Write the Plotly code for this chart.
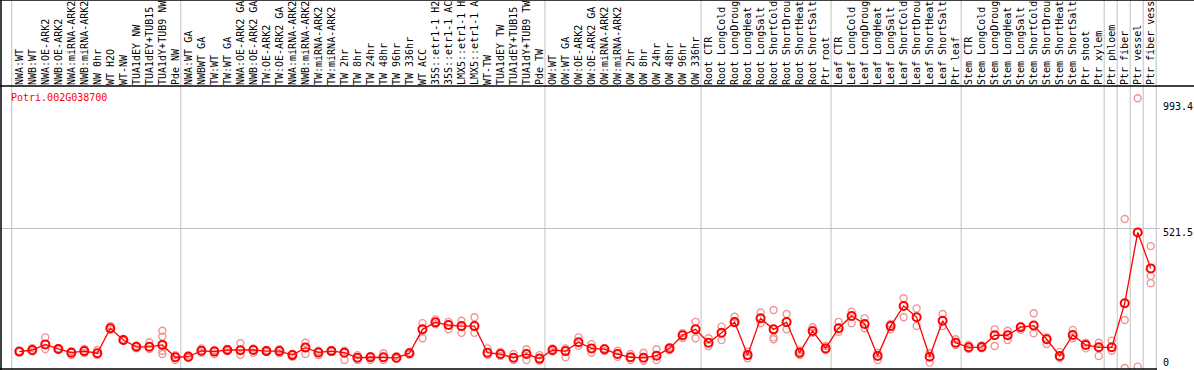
import plotly.graph_objects as go

W, H = 1194, 370
GENE = "Potri.002G038700"

labels = [
    "NWA:WT", "NWB:WT", "NWA:OE-ARK2", "NWB:OE-ARK2", "NWA:miRNA-ARK2", "NWB:miRNA-ARK2",
    "NW 0hr", "WT H2O", "WT-NW", "TUA1dEY NW", "TUA1dEY+TUB15", "TUA1dY+TUB9 NW", "Pde NW",
    "NWA:WT GA", "NWBWT GA", "TW:WT", "TW:WT GA", "NWA:OE-ARK2 GA", "NWB:OE-ARK2 GA",
    "TW:OE-ARK2", "TW:OE-ARK2 GA", "NWA:miRNA-ARK2", "NWB:miRNA-ARK2", "TW:miRNA-ARK2",
    "TW:miRNA-ARK2", "TW 2hr", "TW 8hr", "TW 24hr", "TW 48hr", "TW 96hr", "TW 336hr",
    "WT ACC", "35S::etr1-1 H2", "35S::etr1-1 AC", "LMX5::etr1-1 H", "LMX5::etr1-1 A",
    "WT-TW", "TUA1dEY TW", "TUA1dEY+TUB15", "TUA1dY+TUB9 TW", "Pde TW",
    "OW:WT", "OW:WT GA", "OW:OE-ARK2", "OW:OE-ARK2 GA", "OW:miRNA-ARK2", "OW:miRNA-ARK2",
    "OW 2hr", "OW 8hr", "OW 24hr", "OW 48hr", "OW 96hr", "OW 336hr",
    "Root CTR", "Root LongCold", "Root LongDroug", "Root LongHeat", "Root LongSalt",
    "Root ShortCold", "Root ShortDrou", "Root ShortHeat", "Root ShortSalt", "Ptr root",
    "Leaf CTR", "Leaf LongCold", "Leaf LongDroug", "Leaf LongHeat", "Leaf LongSalt",
    "Leaf ShortCold", "Leaf ShortDrou", "Leaf ShortHeat", "Leaf ShortSalt", "Ptr leaf",
    "Stem CTR", "Stem LongCold", "Stem LongDroug", "Stem LongHeat", "Stem LongSalt",
    "Stem ShortCold", "Stem ShortDrou", "Stem ShortHeat", "Stem ShortSalt", "Ptr shoot",
    "Ptr xylem", "Ptr phloem", "Ptr fiber", "Ptr vessel", "Ptr fiber vess",
]

means = [
    61, 67, 88, 71, 57, 63, 55, 148, 104, 79, 79, 86, 40,
    42, 64, 61, 67, 66, 67, 63, 63, 48, 76, 58, 63, 57, 38, 40, 40, 38, 55,
    144, 170, 160, 156, 156, 57, 52, 38, 52, 35,
    67, 63, 96, 73, 70, 52, 40, 38, 46, 73, 122, 144,
    94, 131, 171, 48, 185, 144, 171, 57, 138, 73,
    148, 194, 164, 45, 156, 231, 189, 42, 176, 94,
    77, 78, 122, 122, 152, 158, 107, 45, 123, 86,
    77, 77, 241, 505, 371,
]

replicates = [
    [60, 63], [74, 61], [114, 71], [68, 74], [63, 48], [71, 56], [67, 48], [156, 142],
    [108, 101], [83, 73], [96, 71], [139, 117, 64, 52], [48, 30],
    [48, 37], [73, 57], [67, 52], [71, 63], [92, 48], [73, 57], [67, 60], [70, 55],
    [52, 42], [94, 52], [64, 48], [67, 60], [64, 30], [48, 30], [45, 30], [55, 30],
    [45, 34], [60, 50], [167, 111], [181, 163], [172, 144], [176, 131], [189, 131],
    [73, 48], [60, 45], [52, 30], [70, 30], [48, 27],
    [73, 61], [73, 40], [114, 83], [89, 57], [74, 63], [64, 42], [52, 30], [57, 27],
    [70, 30], [78, 67], [130, 112], [172, 111],
    [111, 82], [154, 104], [191, 167], [61, 36], [207, 167], [216, 114, 107],
    [201, 144], [65, 48], [152, 131], [82, 67],
    [172, 135], [210, 167], [185, 148], [56, 30], [144, 164], [260, 189], [222, 156],
    [55, 20], [201, 156], [107, 86],
    [86, 71], [84, 73], [144, 82], [139, 104], [156, 142], [204, 129], [114, 89],
    [60, 37], [142, 111], [94, 73],
    [94, 45], [102, 64], [555, 179, 0], [1005, 5], [454, 343, 316],
]

separator_after = [-1, 12, 40, 52, 62, 72, 83, 84, 85, 86, 87]
axis_values = [993.4, 521.5, 0]
axis_label_shift = [-5, -4, 6]

RED = "#ff0000"
PINK = "#ef9494"
GREY = "#c0c0c0"
FONT = "DejaVu Sans Mono"

x = list(range(len(labels)))
rx, ry = [], []
for i, reps in enumerate(replicates):
    for v in reps:
        rx.append(i)
        ry.append(v)

fig = go.Figure()
fig.add_trace(go.Scatter(
    x=rx, y=ry, mode="markers",
    marker=dict(symbol="circle-open", size=7, color=PINK, line=dict(width=1.4, color=PINK)),
    hoverinfo="skip", showlegend=False,
))
fig.add_trace(go.Scatter(
    x=x, y=means, mode="lines+markers",
    line=dict(color=RED, width=1.3),
    marker=dict(symbol="circle-open", size=8, color=RED, line=dict(width=2, color=RED)),
    showlegend=False,
))

px_to_x = lambda p: (p - 19.3) / 13.005
y_top_px, y_bot_px = 86, 369
vpp = 521.5 / 140.0  # value per pixel
y_lo = -(y_bot_px - 368) * vpp
y_hi = (368 - y_top_px) * vpp

fig.update_layout(
    width=W, height=H,
    margin=dict(l=0, r=0, t=0, b=0),
    paper_bgcolor="white", plot_bgcolor="white",
    xaxis=dict(
        domain=[0, 1160 / W], range=[px_to_x(0), px_to_x(1160)],
        side="top", tickmode="array", tickvals=x, ticktext=labels,
        tickangle=-90, tickfont=dict(family=FONT, size=10, color="black"),
        showgrid=False, zeroline=False, showline=False, ticks="",
        automargin=False, fixedrange=True,
    ),
    yaxis=dict(
        domain=[(H - y_bot_px) / H, (H - y_top_px) / H], range=[y_lo, y_hi],
        tickmode="array", tickvals=[axis_values[1]], showticklabels=False,
        showgrid=True, gridcolor=GREY, gridwidth=1, zeroline=False, showline=False,
        automargin=False, fixedrange=True,
    ),
)

shapes = []
for s in separator_after:
    xv = s + 0.42
    shapes.append(dict(type="line", xref="x", yref="paper", x0=xv, x1=xv, y0=0, y1=1,
                       line=dict(color=GREY, width=1), layer="below"))
black = dict(color="black", width=1.5)
shapes.append(dict(type="line", xref="paper", yref="paper", x0=0, x1=1, y0=1, y1=1, line=black))
shapes.append(dict(type="line", xref="paper", yref="paper", x0=0, x1=1,
                   y0=(H - 86) / H, y1=(H - 86) / H, line=black))
shapes.append(dict(type="line", xref="paper", yref="paper", x0=0, x1=1157 / W,
                   y0=(H - 369) / H, y1=(H - 369) / H, line=black))
shapes.append(dict(type="line", xref="paper", yref="paper", x0=1 / W, x1=1 / W, y0=0, y1=1, line=black))
fig.update_layout(shapes=shapes)

ann = [dict(text=GENE, xref="paper", yref="paper", x=9 / W, y=(H - 97) / H,
            xanchor="left", yanchor="middle", showarrow=False,
            font=dict(family=FONT, size=10, color=RED))]
for v, sh in zip(axis_values, axis_label_shift):
    ann.append(dict(text=f"{v:g}", xref="paper", yref="y", x=1161 / W, y=v, yshift=sh,
                    xanchor="left", yanchor="middle", showarrow=False,
                    font=dict(family=FONT, size=10, color="black")))
fig.update_layout(annotations=ann)

fig.write_html("out.html", config={"displayModeBar": False},
               post_script="document.body.style.margin='0';document.body.style.overflow='hidden';")
